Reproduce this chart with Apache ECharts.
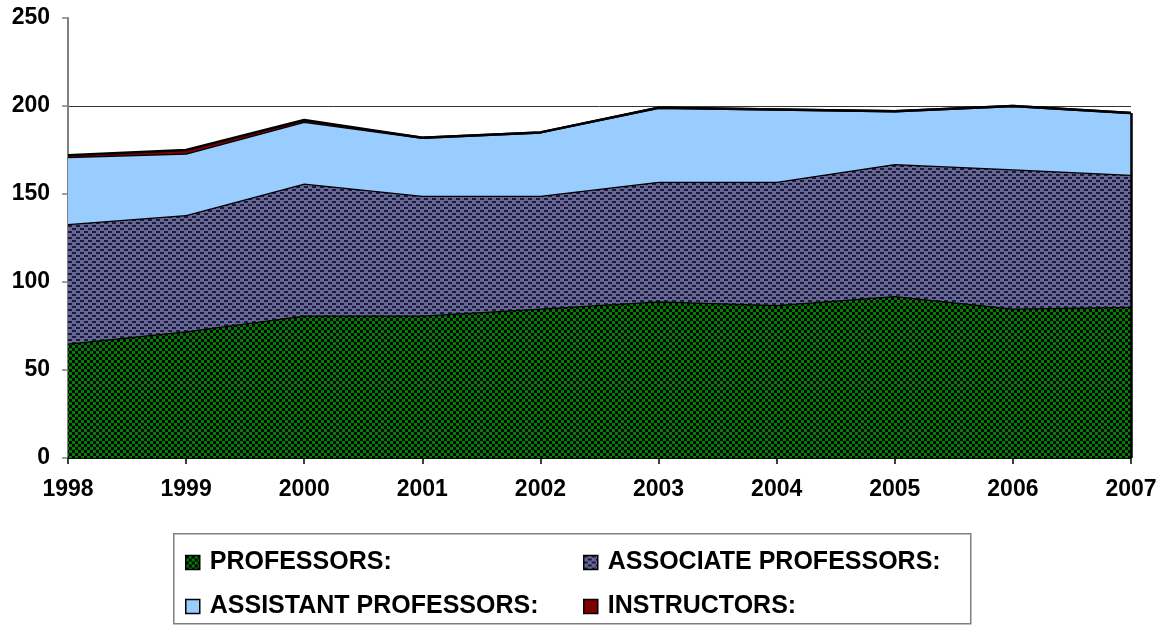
<!DOCTYPE html>
<html>
<head>
<meta charset="utf-8">
<script src="https://cdn.jsdelivr.net/npm/echarts@6/dist/echarts.min.js"></script>
<style>
html,body{margin:0;padding:0;background:#fff;}
#chart{width:1168px;height:625px;}
</style>
</head>
<body>
<div id="chart"></div>
<script>
var years = ['1998','1999','2000','2001','2002','2003','2004','2005','2006','2007'];
var professors = [65, 72, 81, 81, 85, 89, 87, 92, 85, 86];
var associateProfessors = [68, 66, 75, 68, 64, 68, 70, 75, 79, 75];
var assistantProfessors = [38, 35, 35, 33, 36, 42, 41, 30, 36, 35];
var instructors = [1, 2, 1, 0, 0, 0, 0, 0, 0, 0];
var yTicks = [0, 50, 100, 150, 200, 250];
var seriesNames = ['PROFESSORS:', 'ASSOCIATE PROFESSORS:', 'ASSISTANT PROFESSORS:', 'INSTRUCTORS:'];

function checker(c1, c2, cell) {
  var cv = document.createElement('canvas');
  cv.width = cell * 2; cv.height = cell * 2;
  var g = cv.getContext('2d');
  g.fillStyle = c1; g.fillRect(0, 0, cell * 2, cell * 2);
  g.fillStyle = c2;
  g.fillRect(0, 0, cell, cell);
  g.fillRect(cell, cell, cell, cell);
  return {image: cv, repeat: 'repeat'};
}
function dashes(bg, fg) {
  var cv = document.createElement('canvas');
  cv.width = 8; cv.height = 6;
  var g = cv.getContext('2d');
  g.fillStyle = bg; g.fillRect(0, 0, 8, 6);
  g.fillStyle = fg;
  g.fillRect(0, 0, 4, 2);
  g.fillRect(4, 3, 4, 2);
  return {image: cv, repeat: 'repeat'};
}
var greenPat = checker('#008000', '#000000', 3);
var slatePat = dashes('#666699', '#1a1a33');
var lightBlue = '#99CCFF';
var darkRed = '#800000';
var fills = [greenPat, slatePat, lightBlue, darkRed];
var dataSets = [professors, associateProfessors, assistantProfessors, instructors];

var totals = years.map(function (y, i) {
  return professors[i] + associateProfessors[i] + assistantProfessors[i] + instructors[i];
});
var last = years.length - 1;

var series = seriesNames.map(function (name, k) {
  var s = {
    name: name,
    type: 'line',
    stack: 'total',
    data: dataSets[k],
    symbol: 'none',
    showSymbol: false,
    silent: true,
    z: 2 + k,
    lineStyle: {color: '#000', width: 2.5},
    itemStyle: {color: fills[k]},
    areaStyle: {color: fills[k], opacity: 1}
  };
  if (k === 3) {
    s.markLine = {
      silent: true,
      symbol: 'none',
      label: {show: false},
      lineStyle: {color: '#000', width: 2.5, type: 'solid'},
      data: [[{coord: [years[last], 0]}, {coord: [years[last], totals[last]]}]]
    };
  }
  return s;
});

var font = 'Liberation Sans, Arial, sans-serif';
var legendText = {fontFamily: font, fontWeight: 'bold', fontSize: 25, color: '#000', padding: [0, 0, 0, 5]};
function legendItem(k) {
  return {name: seriesNames[k], icon: 'rect', itemStyle: {color: fills[k], borderColor: '#000', borderWidth: 1.5}};
}

var chart = echarts.init(document.getElementById('chart'));
chart.setOption({
  animation: false,
  backgroundColor: '#fff',
  grid: {left: 68, right: 37, top: 18, bottom: 167, containLabel: false},
  xAxis: {
    type: 'category',
    data: years,
    boundaryGap: false,
    axisLine: {lineStyle: {color: '#000', width: 1.5}},
    axisTick: {show: true, alignWithLabel: true, length: 6, lineStyle: {color: '#000', width: 1.5}},
    axisLabel: {margin: 20, fontFamily: font, fontWeight: 'bold', fontSize: 23, color: '#000'},
    splitLine: {show: false}
  },
  yAxis: {
    type: 'value',
    min: yTicks[0],
    max: yTicks[yTicks.length - 1],
    interval: yTicks[1] - yTicks[0],
    axisLine: {show: true, lineStyle: {color: '#808080', width: 2}},
    axisTick: {show: true, length: 6, lineStyle: {color: '#808080', width: 1.5}},
    axisLabel: {margin: 18, fontFamily: font, fontWeight: 'bold', fontSize: 23, color: '#000'},
    splitLine: {show: true, lineStyle: {color: ['#333', '#333', '#333', '#333', '#333', 'rgba(0,0,0,0)'], width: 1}}
  },
  legend: [
    {
      orient: 'vertical', left: 185, top: 550, padding: 0, itemWidth: 14, itemHeight: 14, itemGap: 19,
      textStyle: legendText, selectedMode: false,
      data: [legendItem(0), legendItem(2)]
    },
    {
      orient: 'vertical', left: 583, top: 550, padding: 0, itemWidth: 14, itemHeight: 14, itemGap: 19,
      textStyle: legendText, selectedMode: false,
      data: [legendItem(1), legendItem(3)]
    }
  ],
  graphic: [{
    type: 'rect', left: 173, top: 533, z: -1,
    shape: {width: 797, height: 90},
    style: {fill: '#fff', stroke: '#808080', lineWidth: 1.5}
  }],
  series: series
});
</script>
</body>
</html>
